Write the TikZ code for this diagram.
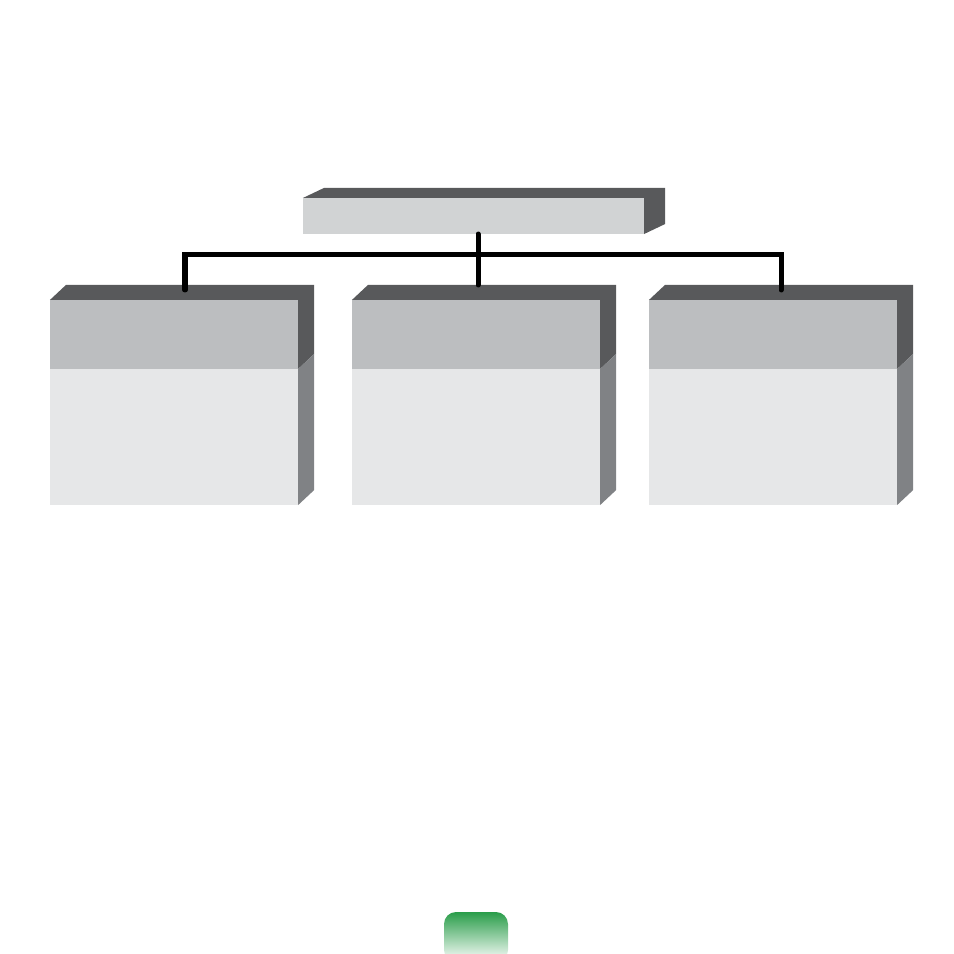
\documentclass[tikz,border=0pt]{standalone}
\usepackage{tikz}
\usepackage{xcolor}
\usetikzlibrary{positioning}
\usetikzlibrary{calc}

\definecolor{sidedark}{HTML}{58595B}
\definecolor{sidemid}{HTML}{808285}
\definecolor{headgray}{HTML}{BCBEC0}
\definecolor{bodygray}{HTML}{E6E7E8}
\definecolor{rootgray}{HTML}{D1D3D4}
\definecolor{tabgreen}{HTML}{2A9D4A}

\tikzset{
  face/.style={inner sep=0pt, outer sep=0pt, draw=none},
  conn/.style={line width=0.05cm, line cap=round, black}
}

\begin{document}
\begin{tikzpicture}[x=0.01cm,y=-0.01cm]
\useasboundingbox (0,0) rectangle (954,954);

% root block
\node[face, fill=rootgray, minimum width=3.41cm, minimum height=0.36cm] (root) at (473.5,216) {};
\fill[sidedark] (root.north west)--($(root.north west)+(21,-10)$)
  --($(root.north east)+(21,-10)$)--($(root.south east)+(21,-10)$)
  --(root.south east)--(root.north east)--cycle;

% three lower blocks
\foreach \nm/\cx in {L/174,M/476,R/773}{
  \node[face, fill=headgray, minimum width=2.48cm, minimum height=0.69cm] (head\nm) at (\cx,334.5) {};
  \node[face, fill=bodygray, minimum width=2.48cm, minimum height=1.36cm, below=0pt of head\nm] (body\nm) {};
  \fill[sidedark] (head\nm.north west)--($(head\nm.north west)+(16,-15)$)
    --($(head\nm.north east)+(16,-15)$)--($(head\nm.south east)+(16,-15)$)
    --(head\nm.south east)--(head\nm.north east)--cycle;
  \fill[sidemid] (body\nm.north east)--($(body\nm.north east)+(16,-15)$)
    --($(body\nm.south east)+(16,-15)$)--(body\nm.south east)--cycle;
}

% connectors
\coordinate (bus) at (478,254);
\draw[conn] ($(root.south)+(4.5,0)$)--($(headM.north)+(2,-15)$);
\draw[conn] ($(headL.north)+(11,-10)$)|-(bus)-|($(headR.north)+(8,-10)$);

% green tab
\shade[top color=tabgreen, middle color=tabgreen!50, bottom color=white, rounded corners=0.12cm]
  (444,962)--(444,912)--(508,912)--(508,962)--cycle;
\end{tikzpicture}
\end{document}
